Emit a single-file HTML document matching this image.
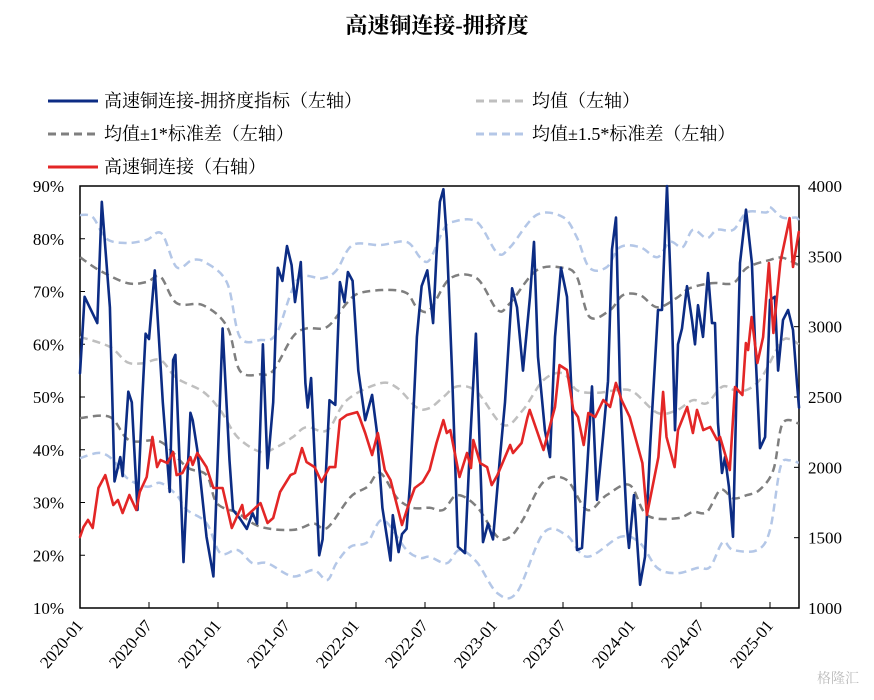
<!DOCTYPE html>
<html><head><meta charset="utf-8">
<style>
body{margin:0;background:#fff;}
svg text{font-family:"Liberation Serif","Noto Serif CJK SC",serif;}
</style></head>
<body>
<svg id="chart" width="874" height="695" viewBox="0 0 874 695" xmlns="http://www.w3.org/2000/svg">
<text x="437" y="33" text-anchor="middle" font-size="22" font-weight="bold" fill="#000">高速铜连接-拥挤度</text>
<g id="legend" font-size="18">
 <g><line x1="48" y1="101" x2="98" y2="101" stroke="#0c2c84" stroke-width="3"/><text x="104" y="107">高速铜连接-拥挤度指标（左轴）</text></g>
 <g><line x1="476" y1="101" x2="526" y2="101" stroke="#bfbfbf" stroke-width="3" stroke-dasharray="8,5"/><text x="532" y="107">均值（左轴）</text></g>
 <g><line x1="48" y1="134" x2="98" y2="134" stroke="#7f7f7f" stroke-width="3" stroke-dasharray="8,5"/><text x="104" y="140">均值±1*标准差（左轴）</text></g>
 <g><line x1="476" y1="134" x2="526" y2="134" stroke="#b4c7e7" stroke-width="3" stroke-dasharray="8,5"/><text x="532" y="140">均值±1.5*标准差（左轴）</text></g>
 <g><line x1="48" y1="167" x2="98" y2="167" stroke="#e32626" stroke-width="3"/><text x="104" y="173">高速铜连接（右轴）</text></g>
</g>
<g id="axes"></g>
<g id="series"></g>
<text x="838" y="683" font-size="14" fill="#bbb" text-anchor="middle">格隆汇</text>
</svg>
<script>
const leftTicks=[10,20,30,40,50,60,70,80,90];
const rightTicks=[1000,1500,2000,2500,3000,3500,4000];
const xTickLabels=["2020-01","2020-07","2021-01","2021-07","2022-01","2022-07","2023-01","2023-07","2024-01","2024-07","2025-01"];
const xTickMonths=[0,6,12,18,24,30,36,42,48,54,60];
const crowdT=[0,.4,1.5,1.9,2.6,3.0,3.5,3.7,4.2,4.5,5.0,5.4,5.7,6.0,6.5,7.2,7.8,8.1,8.3,9.0,9.6,9.8,10.2,11.0,11.6,12.4,13.0,13.3,13.9,14.5,15.0,15.4,15.9,16.3,16.8,17.2,17.6,18.0,18.4,18.7,19.2,19.6,19.8,20.1,20.8,21.1,21.7,22.2,22.6,23.0,23.3,23.7,24.2,24.8,25.4,25.8,26.3,27.0,27.2,27.7,28.0,28.4,28.7,29.3,29.7,30.2,30.7,31.0,31.3,31.6,31.9,32.35,32.87,33.48,33.91,34.43,35.04,35.48,35.91,36.52,36.96,37.57,38,38.52,39.13,39.48,39.83,40.43,40.87,41.3,41.83,42.35,42.78,43.22,43.65,44.09,44.52,44.96,45.48,45.91,46.26,46.61,46.96,47.57,47.74,48.17,48.7,49.13,49.57,50.26,50.61,51.04,51.48,51.74,52,52.35,52.78,53.22,53.48,53.74,54.17,54.61,54.96,55.22,55.48,55.83,56.09,56.43,56.78,57.04,57.39,57.91,58.43,58.7,59.13,59.57,60,60.43,60.7,61.13,61.57,62,62.35,62.52];
const crowdV=[54.5,69,64,87,67,34,38.6,35,51,49,28.6,49,62,61,74,49,32,57,58,18.7,47,45.6,40,23.5,16,63,38,28.6,27,25,28,26,60,36.5,49,74.5,72,78.6,75,68,75.6,52.6,48,53.6,20,23,49.4,48.5,71.8,68,73.7,72,55,45.6,50.4,43.7,29,19,27.6,20.6,24,25,33.7,61.4,71,74,64,77,87,89.4,80,55,21.6,20.4,41,62,22.5,26,23,38.6,49,70.6,67,55,69,79.4,57.6,43.7,38.6,61.4,74.5,69,49,21,21.4,36,52,30.5,42.4,53,78,84,52,25,21.4,31.4,14.4,19.7,40.5,66.5,66.5,90,65,43.7,60,63,71,64.6,60,67.4,61.4,73.5,64,64,45,35.6,38.6,33,23.5,47,75.4,85.5,75.4,60,40.3,42.4,68.4,69,55,64.6,66.5,62.7,52.6,48];
const indexT=[0,.3,.7,1.1,1.6,2.2,2.9,3.3,3.7,4.3,4.9,5.2,5.8,6.3,6.7,7.0,7.6,8.1,8.4,8.9,9.6,9.8,10.2,11.0,11.6,12.4,13.2,14.1,14.3,15.7,16.3,16.8,17.4,18.3,18.7,19.3,19.7,20.4,21.0,21.7,22.2,22.6,23.2,24.1,24.3,24.8,25.4,25.9,26.5,27.0,28.0,28.5,29.1,29.8,30.4,31.0,31.6,31.9,32.2,33.0,33.65,34.0,34.2,34.8,35.4,35.8,36.3,37.4,37.65,38.4,38.9,39.1,40.3,41.3,41.7,42.35,42.9,43.3,43.8,44.2,44.8,45.5,46.1,46.6,47.1,47.8,48.9,49.3,50.3,50.7,51.0,51.7,52.0,52.8,53.3,53.65,54.2,54.8,55.4,55.65,56.5,56.96,57.6,57.9,58.1,58.4,58.9,59.4,59.9,60.3,60.9,61.7,62.0,62.5];
const indexV=[1505,1576,1626,1569,1853,1945,1732,1768,1675,1803,1697,1825,1931,2216,2002,2052,2030,2109,1945,1960,2073,2017,2102,2002,1853,1853,1569,1732,1640,1746,1604,1640,1825,1945,1960,2137,2038,2002,1896,2002,2002,2336,2372,2393,2358,2244,2088,2244,1981,1910,1590,1718,1853,1896,1981,2173,2336,2244,2265,1931,2102,1995,2194,2030,2002,1874,1945,2159,2102,2173,2351,2408,2123,2429,2727,2692,2408,2358,2159,2386,2358,2479,2429,2600,2479,2358,2030,1661,2073,2536,2216,2002,2265,2429,2244,2408,2265,2287,2194,2216,1981,2571,2514,2884,2834,3069,2742,2926,3452,2955,3460,3772,3424,3673];
const meanT=[0,2.6,4.1,5.5,7.0,8.4,10.7,12.2,13.7,15.7,17.1,18.5,19.7,21.5,23.2,26.1,27.6,29.3,30.4,31.6,32.8,34.5,36.8,38.5,40.3,42,43.2,45,46.7,48.1,50.2,51.9,53.3,54.5,55.9,57.4,59.1,60.9,61.7,62.5];
const meanV=[61.4,59.5,56.6,56.4,57,53.6,51,47.5,42.4,39.6,40.5,42.4,44.3,43.7,49.4,52.6,51.7,48,47.9,50,52,51,44.7,47.5,53.2,54.5,51.3,50.8,51.3,51,47,47.5,49.4,48.8,52,51,53.2,60.2,61,60];
const plus1T=[0,1.7,4.1,5.8,7.0,8.4,10.7,12.8,13.9,15.7,16.8,18.5,19.7,21.5,23.2,24.3,26.7,28.4,29.3,30.4,32.2,34.5,36.3,37.4,39.7,42,43.2,44.3,46.1,47.2,48.7,50.2,51.9,53.0,55.0,56.8,58,60,61.1,62.5];
const plus1V=[76.5,74,71.6,71.8,72.8,67.8,67.4,63.3,55,54.3,55,61.4,63,63.3,67.8,69.7,70.3,69.7,67,66.5,72.5,72.5,66.5,67.8,74,74.5,72.8,65.2,66.5,69.3,69.3,67,68.8,70.6,71.6,71.6,74.5,76,76.4,75];
const minus1T=[0,2.6,4.3,7.0,9.3,11.0,11.9,13.7,15.7,18.5,20.3,21.5,23.5,25,26.1,27.6,28.96,30.4,31.6,32.8,34.5,36.3,37.4,38.5,40.3,42.3,44.1,45.8,47.8,49.3,51.9,53.3,54.5,55.7,56.8,58,59.1,60.3,61.1,62.5];
const minus1V=[46,46.2,41.8,41.5,36.7,35.2,29.9,28,25.4,24.8,26,25.2,31,33,35.6,30.8,29,29,28.6,31.4,29.2,23.5,23.5,26.7,33.9,34.3,28.6,31.4,33.3,27.6,27,28.2,28.2,32.4,30.8,31.4,32.4,36.2,45,45];
const plus15T=[0,1.1,2.3,4.1,5.8,7.1,8.4,9.8,11.0,12.8,13.9,15.7,17.1,18.9,21.1,22.3,23.7,26.1,28.4,29.6,30.4,31.6,32.4,34.5,36.3,37.4,39.7,42,43.2,44.3,45.8,46.96,48.7,50.2,51.3,52.4,53.3,54.5,55.4,56.8,58,59.7,60,61.1,62.3,62.5];
const plus15V=[84.5,84.1,80,79.2,79.8,81,74.6,76,75.4,71.6,61.4,60.8,62.1,72.2,72.5,74,78.8,78.8,79.4,76.4,76,81.7,83.2,83.2,77.3,78.4,84.5,84.1,80.3,74.5,74.6,78.4,78.4,76.5,79.4,78.4,81.7,80.1,81.7,81.7,85,85,86,84,84,83];
const minus15T=[0,1.7,2.9,4.1,5.8,7.0,8.4,9.3,11.0,12.2,13.7,15.0,16.3,18.5,20.3,21.5,22.3,23.5,25,26.35,28.4,29.6,30.4,31.9,33.0,34.5,36.3,38,40.3,42.3,44.1,47,48.7,50.2,51.9,53.7,54.8,55.9,56.8,58.9,60,60.9,61.7,62.5];
const minus15V=[38.4,39.4,38,34.6,33,33.7,31.4,28.6,26.1,20.4,21,18.5,18.5,16,17.2,15.3,18.5,21.6,22.5,26.7,21,19.5,19.7,18.5,21,18.7,12.8,13,24.2,23.8,19.7,23.5,22.3,17.6,16.6,17.6,17.8,22.5,21,21,24.8,36.7,38,37.5];

const X0=80,X1=799,YT=186,YB=608;
const xS=m=>X0+m*11.5;
const yL=v=>YB-(v-10)/80*(YB-YT);
const yR=v=>YB-(v-1000)/3000*(YB-YT);
const NS="http://www.w3.org/2000/svg";
function mk(tag,attrs,parent){const e=document.createElementNS(NS,tag);for(const k in attrs)e.setAttribute(k,attrs[k]);parent.appendChild(e);return e;}
const axes=document.getElementById('axes'), ser=document.getElementById('series');

let e=mk('rect',{x:X0,y:YT,width:X1-X0,height:YB-YT,fill:'none',stroke:'#000','stroke-width':1.5},axes);


leftTicks.forEach(v=>{
 let t=mk('line',{x1:X0,x2:X0+5,y1:yL(v),y2:yL(v),stroke:'#000'},axes);
 
 
 let l=mk('text',{x:X0-16,y:yL(v)+6,'text-anchor':'end','font-size':17},axes);
 l.textContent=v+'%';
 
 
});
rightTicks.forEach(v=>{
 let t=mk('line',{x1:X1-5,x2:X1,y1:yR(v),y2:yR(v),stroke:'#000'},axes);
 
 
 let l=mk('text',{x:X1+9,y:yR(v)+6,'font-size':17},axes);
 l.textContent=v;
 
 
});
xTickMonths.forEach((m,i)=>{
 let x=xS(m);
 let t=mk('line',{x1:x,x2:x,y1:YB,y2:YB-6,stroke:'#000'},axes);
 
 
 let l=mk('text',{x:x+4,y:YB+18,'text-anchor':'end','font-size':17,transform:`rotate(-50 ${x+4} ${YB+18})`},axes);
 l.textContent=xTickLabels[i];
 
 
});
function line(T,V,ys,color,w,dash,name){
 const P=T.map((t,i)=>[xS(t),ys(V[i])]);
 let d;
 if(dash){
  d='M'+P[0][0].toFixed(1)+','+P[0][1].toFixed(1);
  for(let i=0;i<P.length-1;i++){
   const p0=P[Math.max(0,i-1)],p1=P[i],p2=P[i+1],p3=P[Math.min(P.length-1,i+2)];
   const c1=[p1[0]+(p2[0]-p0[0])/6,p1[1]+(p2[1]-p0[1])/6];
   const c2=[p2[0]-(p3[0]-p1[0])/6,p2[1]-(p3[1]-p1[1])/6];
   d+='C'+c1[0].toFixed(1)+','+c1[1].toFixed(1)+' '+c2[0].toFixed(1)+','+c2[1].toFixed(1)+' '+p2[0].toFixed(1)+','+p2[1].toFixed(1);
  }
 } else {
  d=P.map((p,i)=>(i?'L':'M')+p[0].toFixed(1)+','+p[1].toFixed(1)).join('');
 }
 const a={d:d,fill:'none',stroke:color,'stroke-width':w,'stroke-linejoin':'round','stroke-linecap':'round'};
 if(dash){a['stroke-dasharray']=dash;a['stroke-linecap']='butt';}
 const p=mk('path',a,ser);
 
 
}
line(plus15T,plus15V,yL,'#b4c7e7',2.5,'8,5','mean-plus-1-5sd-line');
line(minus15T,minus15V,yL,'#b4c7e7',2.5,'8,5','mean-minus-1-5sd-line');
line(plus1T,plus1V,yL,'#7f7f7f',2.5,'8,5','mean-plus-1sd-line');
line(minus1T,minus1V,yL,'#7f7f7f',2.5,'8,5','mean-minus-1sd-line');
line(meanT,meanV,yL,'#bfbfbf',2.5,'8,5','mean-line');
line(crowdT,crowdV,yL,'#0c2c84',2.6,null,'crowding-index-line');
line(indexT,indexV,yR,'#e32626',2.6,null,'copper-connect-index-line');
</script>
</body></html>
